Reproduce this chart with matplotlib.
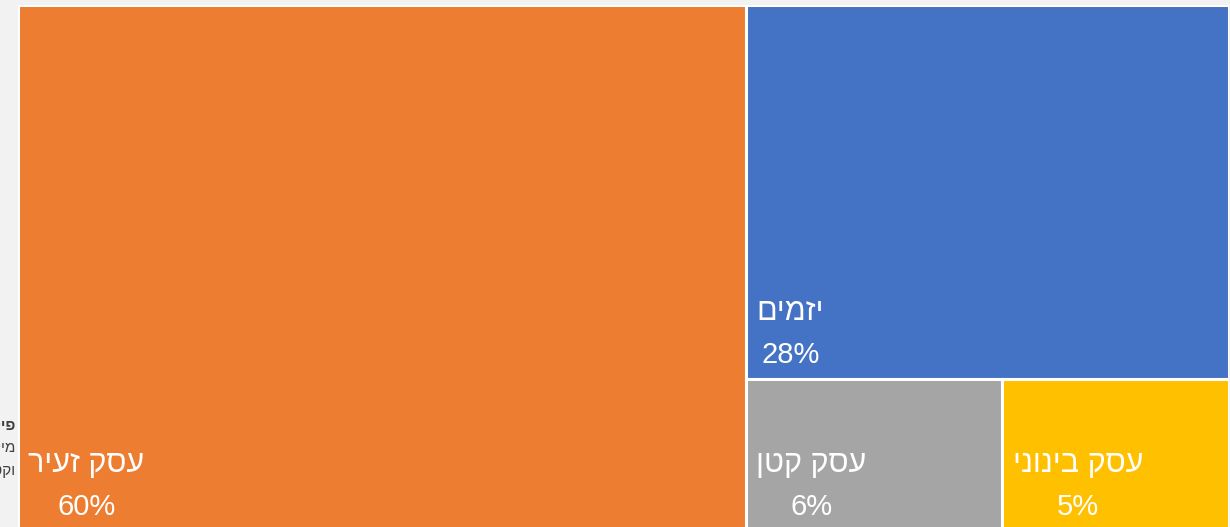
import matplotlib as mpl
mpl.use("Agg")
import matplotlib.pyplot as plt
from matplotlib.patches import Rectangle

plt.rcParams['font.family'] = ['Liberation Sans', 'DejaVu Sans']

# segments of the treemap (share of total, %)
labels = ["עסק זעיר", "יזמים", "עסק קטן", "עסק בינוני"]
values = [60.0, 28.3, 6.1, 5.4]
colors = ['#ED7D31', '#4472C4', '#A5A5A5', '#FFC000']

# title lines, mostly hidden at the left edge
title_lines = ["פילוח", "מיקרו", "וקטנים"]


def rtl(s):
    # matplotlib has no bidi support, draw hebrew in visual order
    return s[::-1]


def layout(vals):
    # biggest block takes the full height, the rest split the right column
    total = sum(vals)
    w0 = vals[0] / total
    rects = [(0, 0, w0, 1)]
    rest = sum(vals[1:])
    h1 = vals[1] / rest
    rects.append((w0, 0, 1 - w0, h1))
    bottom = sum(vals[2:])
    x = w0
    for v in vals[2:]:
        w = (1 - w0) * v / bottom
        rects.append((x, h1, w, 1 - h1))
        x += w
    return rects


W, H = 1230, 527
fig = plt.figure(figsize=(W / 100, H / 100), dpi=100, facecolor='#f2f2f2')

# title text sits behind the plot area, only its start peeks out
for i, line in enumerate(title_lines):
    fig.text(16 / W, 1 - (425 + 23 * i) / H, rtl(line), ha='right', va='center',
             fontsize=11, color='#404040',
             fontweight='bold' if i == 0 else 'normal')

ax = fig.add_axes([18 / W, 1 - 531 / H, 1211 / W, 526 / H])
ax.set_xlim(0, 1)
ax.set_ylim(1, 0)
ax.axis('off')

for (x, y, w, h), lab, val, c in zip(layout(values), labels, values, colors):
    ax.add_patch(Rectangle((x, y), w, h, facecolor=c, edgecolor='white',
                           linewidth=2.2, zorder=2))
    name = ax.annotate(rtl(lab), xy=(x, y + h), xytext=(7.5, 48),
                       textcoords='offset points', ha='left', va='center',
                       fontsize=22, color='white', zorder=3)
    ax.annotate("%d%%" % round(val), xy=(0.5, 0), xycoords=name,
                xytext=(0, -10), textcoords='offset points',
                ha='center', va='top', fontsize=21, color='white', zorder=3)

fig.savefig("out.png", dpi=100, facecolor=fig.get_facecolor())
